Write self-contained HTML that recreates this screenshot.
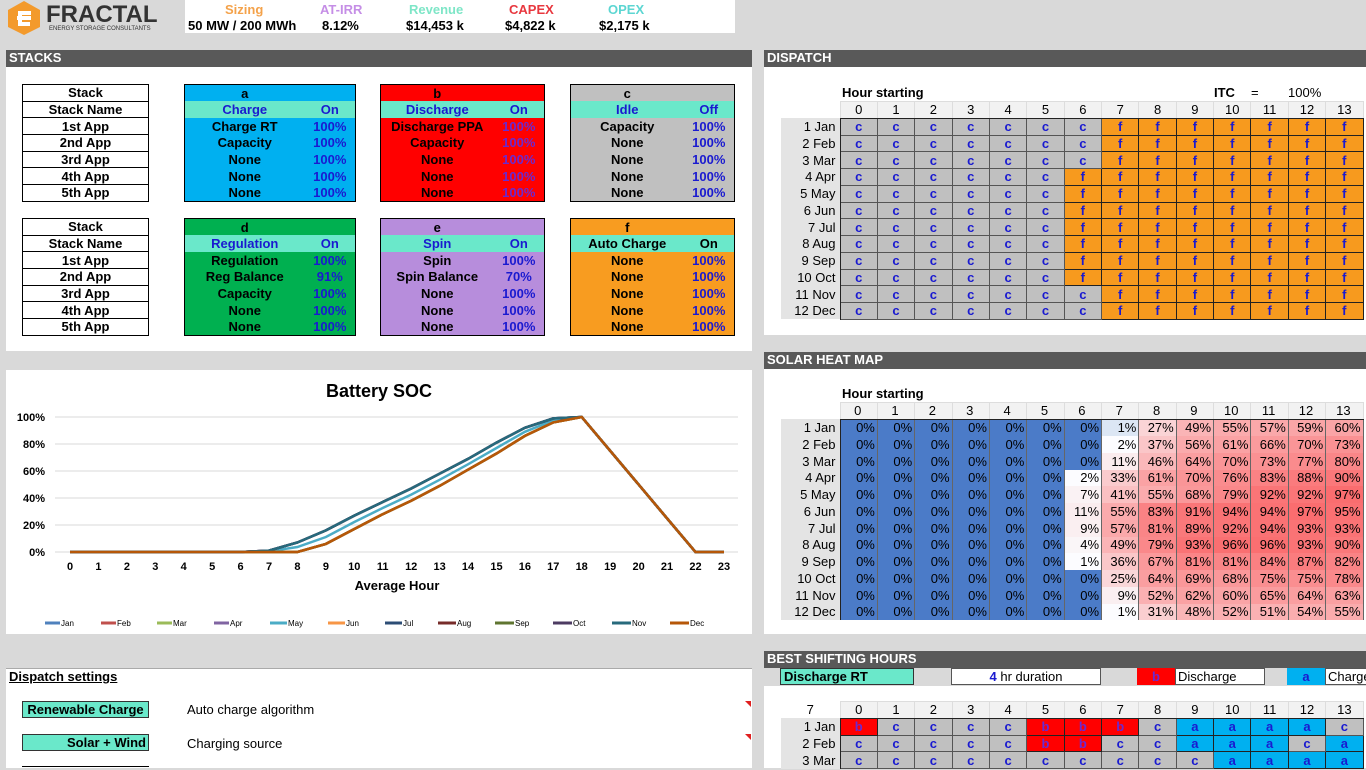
<!DOCTYPE html>
<html><head><meta charset="utf-8">
<style>
*{box-sizing:border-box;margin:0;padding:0}
body{width:1366px;height:768px;overflow:hidden;background:#d9d9d9;font-family:"Liberation Sans",Arial,sans-serif;position:relative;color:#000}
.abs{position:absolute}
.hdr{position:absolute;background:#595959;color:#fff;font-weight:bold;font-size:13px;line-height:16px;padding-left:3px;height:17px}
.pan{position:absolute;background:#fff}
table{border-collapse:collapse;position:absolute;table-layout:fixed}
td{padding:0;font-size:13px;line-height:15px;white-space:nowrap;overflow:hidden}
.lt td{border:1px solid #000;background:#fff;font-weight:bold;text-align:center;height:16.7px}
.bx{border:1px solid #000}
.bx td{font-weight:bold;height:16.7px;text-align:center}
.bx td.v{color:#1a1ad0}
.bx tr.t td{background:#6ae8ca;color:#1a1ad0}
.dg td{height:16.75px;text-align:center;font-weight:bold;color:#1a1ad0;border:1px solid #222}
.dg td.c{background:#c0c0c0;border-color:#555}
.dg td.f{background:#f79a1e}
.dg td.b{background:#ff0000;color:#6a2ad0}
.dg td.a{background:#00b0f0}
.dg td.l{background:#e4e4e4;color:#000;font-weight:normal;text-align:right;padding-right:4px;border:none;border-right:1px solid #222}
.dg tr.h td{background:#f2f2f2;color:#000;font-weight:normal;border:1px solid #ddd;border-bottom:1px solid #222}
.dg tr.h td.n{background:#fff;border:none}
.hm td{height:16.75px;text-align:right;padding-right:2px;border:1px solid #666;border-top:none;border-bottom:none}
.hm td.z{background:#4b7bc8}
.hm td.l{background:#e4e4e4;text-align:right;padding-right:4px;border:none;border-right:1px solid #222}
.hm tr.h td{background:#f2f2f2;text-align:center;border:1px solid #ddd;border-bottom:1px solid #222}
.hm tr.h td.n{background:#fff;border:none}
</style></head><body>

<!-- top header -->
<div class="pan" style="left:185px;top:0;width:550px;height:33px"></div>
<svg class="abs" style="left:6px;top:0" width="36" height="36" viewBox="0 0 36 36"><polygon points="18,1 34,10 34,27 18,35 2,27 2,10" fill="#f39a2c"/><path d="M11 18 h14 M25 13 h-11 v11 h10" stroke="#fff" stroke-width="4" fill="none"/></svg>
<div class="abs" style="left:46px;top:1px;font-size:24px;font-weight:bold;color:#333;letter-spacing:0px">FRACTAL</div>
<div class="abs" style="left:49px;top:26px;font-size:6px;color:#333">ENERGY STORAGE CONSULTANTS</div>
<div class="abs" style="left:225px;top:2px;font-size:13px;font-weight:bold;color:#f4a24a">Sizing</div>
<div class="abs" style="left:320px;top:2px;font-size:13px;font-weight:bold;color:#c58ee6">AT-IRR</div>
<div class="abs" style="left:409px;top:2px;font-size:13px;font-weight:bold;color:#7ee6c7">Revenue</div>
<div class="abs" style="left:509px;top:2px;font-size:13px;font-weight:bold;color:#e8383f">CAPEX</div>
<div class="abs" style="left:608px;top:2px;font-size:13px;font-weight:bold;color:#5cd6d2">OPEX</div>
<div class="abs" style="left:188px;top:18px;font-size:13px;font-weight:bold">50 MW / 200 MWh</div>
<div class="abs" style="left:322px;top:18px;font-size:13px;font-weight:bold">8.12%</div>
<div class="abs" style="left:406px;top:18px;font-size:13px;font-weight:bold">$14,453 k</div>
<div class="abs" style="left:505px;top:18px;font-size:13px;font-weight:bold">$4,822 k</div>
<div class="abs" style="left:599px;top:18px;font-size:13px;font-weight:bold">$2,175 k</div>

<!-- STACKS -->
<div class="hdr" style="left:6px;top:50px;width:746px">STACKS</div>
<div class="pan" style="left:6px;top:67px;width:746px;height:284px"></div>

<table class="lt" style="left:22px;top:84px;width:127px">
<tr><td>Stack</td></tr><tr><td>Stack Name</td></tr><tr><td>1st App</td></tr><tr><td>2nd App</td></tr><tr><td>3rd App</td></tr><tr><td>4th App</td></tr><tr><td>5th App</td></tr></table>
<table class="lt" style="left:22px;top:218px;width:127px">
<tr><td>Stack</td></tr><tr><td>Stack Name</td></tr><tr><td>1st App</td></tr><tr><td>2nd App</td></tr><tr><td>3rd App</td></tr><tr><td>4th App</td></tr><tr><td>5th App</td></tr></table>

<table class="bx" style="left:184px;top:84px;width:172px;background:#00b0f0"><col style="width:120px"><col>
<tr><td>a</td><td></td></tr><tr class="t"><td>Charge</td><td>On</td></tr>
<tr><td>Charge RT</td><td class="v">100%</td></tr><tr><td>Capacity</td><td class="v">100%</td></tr><tr><td>None</td><td class="v">100%</td></tr><tr><td>None</td><td class="v">100%</td></tr><tr><td>None</td><td class="v">100%</td></tr></table>
<table class="bx" style="left:380px;top:84px;width:165px;background:#ff0000"><col style="width:113px"><col>
<tr><td>b</td><td></td></tr><tr class="t"><td>Discharge</td><td>On</td></tr>
<tr><td>Discharge PPA</td><td class="v" style="color:#6a2ad0">100%</td></tr><tr><td>Capacity</td><td class="v" style="color:#6a2ad0">100%</td></tr><tr><td>None</td><td class="v" style="color:#6a2ad0">100%</td></tr><tr><td>None</td><td class="v" style="color:#6a2ad0">100%</td></tr><tr><td>None</td><td class="v" style="color:#6a2ad0">100%</td></tr></table>
<table class="bx" style="left:570px;top:84px;width:165px;background:#c0c0c0"><col style="width:113px"><col>
<tr><td>c</td><td></td></tr><tr class="t"><td>Idle</td><td>Off</td></tr>
<tr><td>Capacity</td><td class="v">100%</td></tr><tr><td>None</td><td class="v">100%</td></tr><tr><td>None</td><td class="v">100%</td></tr><tr><td>None</td><td class="v">100%</td></tr><tr><td>None</td><td class="v">100%</td></tr></table>

<table class="bx" style="left:184px;top:218px;width:172px;background:#00b050"><col style="width:120px"><col>
<tr><td>d</td><td></td></tr><tr class="t"><td>Regulation</td><td>On</td></tr>
<tr><td>Regulation</td><td class="v">100%</td></tr><tr><td>Reg Balance</td><td class="v">91%</td></tr><tr><td>Capacity</td><td class="v">100%</td></tr><tr><td>None</td><td class="v">100%</td></tr><tr><td>None</td><td class="v">100%</td></tr></table>
<table class="bx" style="left:380px;top:218px;width:165px;background:#b78ddc"><col style="width:113px"><col>
<tr><td>e</td><td></td></tr><tr class="t"><td>Spin</td><td>On</td></tr>
<tr><td>Spin</td><td class="v">100%</td></tr><tr><td>Spin Balance</td><td class="v">70%</td></tr><tr><td>None</td><td class="v">100%</td></tr><tr><td>None</td><td class="v">100%</td></tr><tr><td>None</td><td class="v">100%</td></tr></table>
<table class="bx" style="left:570px;top:218px;width:165px;background:#f89c20"><col style="width:113px"><col>
<tr><td>f</td><td></td></tr><tr class="t"><td style="color:#000">Auto Charge</td><td style="color:#000">On</td></tr>
<tr><td>None</td><td class="v">100%</td></tr><tr><td>None</td><td class="v">100%</td></tr><tr><td>None</td><td class="v">100%</td></tr><tr><td>None</td><td class="v">100%</td></tr><tr><td>None</td><td class="v">100%</td></tr></table>

<!-- Chart -->
<div class="pan" style="left:6px;top:370px;width:746px;height:264px"></div>
<svg class="abs" style="left:0;top:370px" width="752" height="264" font-family="Liberation Sans, sans-serif">
<g transform="translate(0,-370)">
<text x="379" y="397" font-size="18" font-weight="bold" text-anchor="middle">Battery SOC</text>
<g stroke="#d9d9d9" stroke-width="1">
<line x1="55" x2="738" y1="417" y2="417"/><line x1="55" x2="738" y1="444" y2="444"/><line x1="55" x2="738" y1="471" y2="471"/><line x1="55" x2="738" y1="498" y2="498"/><line x1="55" x2="738" y1="525" y2="525"/><line x1="55" x2="738" y1="552" y2="552"/></g>
<g font-size="11" font-weight="bold" text-anchor="end">
<text x="45" y="421">100%</text><text x="45" y="448">80%</text><text x="45" y="475">60%</text><text x="45" y="502">40%</text><text x="45" y="529">20%</text><text x="45" y="556">0%</text></g>
<g font-size="11" font-weight="bold" text-anchor="middle">
<text x="70" y="570">0</text><text x="98.4" y="570">1</text><text x="126.9" y="570">2</text><text x="155.3" y="570">3</text><text x="183.7" y="570">4</text><text x="212.2" y="570">5</text><text x="240.6" y="570">6</text><text x="269" y="570">7</text><text x="297.4" y="570">8</text><text x="325.9" y="570">9</text><text x="354.3" y="570">10</text><text x="382.7" y="570">11</text><text x="411.2" y="570">12</text><text x="439.6" y="570">13</text><text x="468" y="570">14</text><text x="496.5" y="570">15</text><text x="524.9" y="570">16</text><text x="553.3" y="570">17</text><text x="581.7" y="570">18</text><text x="610.2" y="570">19</text><text x="638.6" y="570">20</text><text x="667" y="570">21</text><text x="695.5" y="570">22</text><text x="724" y="570">23</text>
<text x="397" y="590" font-size="13">Average Hour</text></g>
<defs>
<polyline id="A" points="70,552 240.6,552 269,550.6 297.4,542.5 325.9,530.4 354.3,515.6 382.7,502 411.2,488.5 439.6,473.7 468,458.9 496.5,442.6 524.9,427.8 553.3,418.4 581.7,417 610.2,450.8 638.6,484.5 667,518.3 695.5,552 724,552" fill="none" stroke-width="2.5"/>
<polyline id="B" points="70,552 240.6,552 269,552 297.4,552 325.9,543.9 354.3,529 382.7,514.2 411.2,500.7 439.6,485.9 468,469.7 496.5,453.5 524.9,435.9 553.3,422.4 581.7,417 610.2,450.8 638.6,484.5 667,518.3 695.5,552 724,552" fill="none" stroke-width="2.5"/>
<polyline id="C" points="70,552 240.6,552 269,551.3 297.4,547 325.9,537 354.3,522 382.7,508 411.2,494.6 439.6,479.8 468,464.3 496.5,448 524.9,431.8 553.3,420.4 581.7,417 610.2,450.8 638.6,484.5 667,518.3 695.5,552 724,552" fill="none" stroke-width="2.5"/>
</defs>
<use href="#B" stroke="#4f81bd"/><use href="#B" stroke="#c0504d"/><use href="#B" stroke="#9bbb59"/><use href="#A" stroke="#8064a2"/><use href="#C" stroke="#4bacc6"/><use href="#B" stroke="#f79646"/><use href="#A" stroke="#2c4d75"/><use href="#A" stroke="#772c2a"/><use href="#B" stroke="#5f7530"/><use href="#A" stroke="#4d3b62"/><use href="#A" stroke="#276a7c"/><use href="#B" stroke="#b65708"/>
<g font-size="8" stroke-width="3">
<line x1="45" x2="60" y1="623" y2="623" stroke="#4f81bd"/><text x="61" y="626">Jan</text>
<line x1="101" x2="116" y1="623" y2="623" stroke="#c0504d"/><text x="117" y="626">Feb</text>
<line x1="157" x2="172" y1="623" y2="623" stroke="#9bbb59"/><text x="173" y="626">Mar</text>
<line x1="214" x2="229" y1="623" y2="623" stroke="#8064a2"/><text x="230" y="626">Apr</text>
<line x1="270" x2="287" y1="623" y2="623" stroke="#4bacc6"/><text x="288" y="626">May</text>
<line x1="328" x2="345" y1="623" y2="623" stroke="#f79646"/><text x="346" y="626">Jun</text>
<line x1="385" x2="402" y1="623" y2="623" stroke="#2c4d75"/><text x="403" y="626">Jul</text>
<line x1="438" x2="456" y1="623" y2="623" stroke="#772c2a"/><text x="457" y="626">Aug</text>
<line x1="495" x2="514" y1="623" y2="623" stroke="#5f7530"/><text x="515" y="626">Sep</text>
<line x1="553" x2="572" y1="623" y2="623" stroke="#4d3b62"/><text x="573" y="626">Oct</text>
<line x1="612" x2="631" y1="623" y2="623" stroke="#276a7c"/><text x="632" y="626">Nov</text>
<line x1="670" x2="689" y1="623" y2="623" stroke="#b65708"/><text x="690" y="626">Dec</text>
</g></g></svg>

<!-- Dispatch settings -->
<div class="pan" style="left:6px;top:668px;width:746px;height:100px;border-top:1px solid #aaa"></div>
<div class="abs" style="left:9px;top:669px;font-size:13px;font-weight:bold;text-decoration:underline">Dispatch settings</div>
<div class="abs" style="left:22px;top:701px;width:127px;height:17px;background:#6ae8ca;border:1px solid #333;font-size:13px;font-weight:bold;text-align:center;line-height:15px">Renewable Charge</div>
<div class="abs" style="left:187px;top:702px;font-size:13px">Auto charge algorithm</div>
<div class="abs" style="left:22px;top:734px;width:127px;height:17px;background:#6ae8ca;border:1px solid #333;font-size:13px;font-weight:bold;text-align:right;padding-right:2px;line-height:15px">Solar + Wind</div>
<div class="abs" style="left:187px;top:736px;font-size:13px">Charging source</div>
<div class="abs" style="left:22px;top:766px;width:127px;height:4px;border-top:1px solid #000"></div>
<div class="abs" style="left:745px;top:701px;width:0;height:0;border-left:6px solid transparent;border-top:6px solid #e02020"></div>
<div class="abs" style="left:745px;top:734px;width:0;height:0;border-left:6px solid transparent;border-top:6px solid #e02020"></div>

<!-- DISPATCH -->
<div class="hdr" style="left:764px;top:50px;width:602px">DISPATCH</div>
<div class="pan" style="left:764px;top:67px;width:602px;height:268px"></div>
<div class="abs" style="left:842px;top:85px;font-size:13px;font-weight:bold">Hour starting</div>
<div class="abs" style="left:1214px;top:85px;font-size:13px;font-weight:bold">ITC</div>
<div class="abs" style="left:1251px;top:85px;font-size:13px">=</div>
<div class="abs" style="left:1288px;top:85px;font-size:13px">100%</div>
<table class="dg" style="left:781px;top:101px;width:582px">
<col style="width:59px"><col span="14" style="width:37.36px">
<tr class="h"><td class="n"></td><td>0</td><td>1</td><td>2</td><td>3</td><td>4</td><td>5</td><td>6</td><td>7</td><td>8</td><td>9</td><td>10</td><td>11</td><td>12</td><td>13</td></tr>
<tr><td class="l">1 Jan</td><td class="c">c</td><td class="c">c</td><td class="c">c</td><td class="c">c</td><td class="c">c</td><td class="c">c</td><td class="c">c</td><td class="f">f</td><td class="f">f</td><td class="f">f</td><td class="f">f</td><td class="f">f</td><td class="f">f</td><td class="f">f</td></tr>
<tr><td class="l">2 Feb</td><td class="c">c</td><td class="c">c</td><td class="c">c</td><td class="c">c</td><td class="c">c</td><td class="c">c</td><td class="c">c</td><td class="f">f</td><td class="f">f</td><td class="f">f</td><td class="f">f</td><td class="f">f</td><td class="f">f</td><td class="f">f</td></tr>
<tr><td class="l">3 Mar</td><td class="c">c</td><td class="c">c</td><td class="c">c</td><td class="c">c</td><td class="c">c</td><td class="c">c</td><td class="c">c</td><td class="f">f</td><td class="f">f</td><td class="f">f</td><td class="f">f</td><td class="f">f</td><td class="f">f</td><td class="f">f</td></tr>
<tr><td class="l">4 Apr</td><td class="c">c</td><td class="c">c</td><td class="c">c</td><td class="c">c</td><td class="c">c</td><td class="c">c</td><td class="f">f</td><td class="f">f</td><td class="f">f</td><td class="f">f</td><td class="f">f</td><td class="f">f</td><td class="f">f</td><td class="f">f</td></tr>
<tr><td class="l">5 May</td><td class="c">c</td><td class="c">c</td><td class="c">c</td><td class="c">c</td><td class="c">c</td><td class="c">c</td><td class="f">f</td><td class="f">f</td><td class="f">f</td><td class="f">f</td><td class="f">f</td><td class="f">f</td><td class="f">f</td><td class="f">f</td></tr>
<tr><td class="l">6 Jun</td><td class="c">c</td><td class="c">c</td><td class="c">c</td><td class="c">c</td><td class="c">c</td><td class="c">c</td><td class="f">f</td><td class="f">f</td><td class="f">f</td><td class="f">f</td><td class="f">f</td><td class="f">f</td><td class="f">f</td><td class="f">f</td></tr>
<tr><td class="l">7 Jul</td><td class="c">c</td><td class="c">c</td><td class="c">c</td><td class="c">c</td><td class="c">c</td><td class="c">c</td><td class="f">f</td><td class="f">f</td><td class="f">f</td><td class="f">f</td><td class="f">f</td><td class="f">f</td><td class="f">f</td><td class="f">f</td></tr>
<tr><td class="l">8 Aug</td><td class="c">c</td><td class="c">c</td><td class="c">c</td><td class="c">c</td><td class="c">c</td><td class="c">c</td><td class="f">f</td><td class="f">f</td><td class="f">f</td><td class="f">f</td><td class="f">f</td><td class="f">f</td><td class="f">f</td><td class="f">f</td></tr>
<tr><td class="l">9 Sep</td><td class="c">c</td><td class="c">c</td><td class="c">c</td><td class="c">c</td><td class="c">c</td><td class="c">c</td><td class="f">f</td><td class="f">f</td><td class="f">f</td><td class="f">f</td><td class="f">f</td><td class="f">f</td><td class="f">f</td><td class="f">f</td></tr>
<tr><td class="l">10 Oct</td><td class="c">c</td><td class="c">c</td><td class="c">c</td><td class="c">c</td><td class="c">c</td><td class="c">c</td><td class="f">f</td><td class="f">f</td><td class="f">f</td><td class="f">f</td><td class="f">f</td><td class="f">f</td><td class="f">f</td><td class="f">f</td></tr>
<tr><td class="l">11 Nov</td><td class="c">c</td><td class="c">c</td><td class="c">c</td><td class="c">c</td><td class="c">c</td><td class="c">c</td><td class="c">c</td><td class="f">f</td><td class="f">f</td><td class="f">f</td><td class="f">f</td><td class="f">f</td><td class="f">f</td><td class="f">f</td></tr>
<tr><td class="l">12 Dec</td><td class="c">c</td><td class="c">c</td><td class="c">c</td><td class="c">c</td><td class="c">c</td><td class="c">c</td><td class="c">c</td><td class="f">f</td><td class="f">f</td><td class="f">f</td><td class="f">f</td><td class="f">f</td><td class="f">f</td><td class="f">f</td></tr>
</table>

<!-- SOLAR HEAT MAP -->
<div class="hdr" style="left:764px;top:352px;width:602px">SOLAR HEAT MAP</div>
<div class="pan" style="left:764px;top:369px;width:602px;height:265px"></div>
<div class="abs" style="left:842px;top:386px;font-size:13px;font-weight:bold">Hour starting</div>
<table class="hm" style="left:781px;top:402px;width:582px">
<col style="width:59px"><col span="14" style="width:37.36px">
<tr class="h"><td class="n"></td><td>0</td><td>1</td><td>2</td><td>3</td><td>4</td><td>5</td><td>6</td><td>7</td><td>8</td><td>9</td><td>10</td><td>11</td><td>12</td><td>13</td></tr>
<tr><td class="l">1 Jan</td><td class="z">0%</td><td class="z">0%</td><td class="z">0%</td><td class="z">0%</td><td class="z">0%</td><td class="z">0%</td><td class="z">0%</td><td style="background:#dce6f4">1%</td><td style="background:rgb(250,212,214)">27%</td><td style="background:rgb(250,180,182)">49%</td><td style="background:rgb(250,171,173)">55%</td><td style="background:rgb(250,168,170)">57%</td><td style="background:rgb(250,165,167)">59%</td><td style="background:rgb(250,164,166)">60%</td></tr>
<tr><td class="l">2 Feb</td><td class="z">0%</td><td class="z">0%</td><td class="z">0%</td><td class="z">0%</td><td class="z">0%</td><td class="z">0%</td><td class="z">0%</td><td style="background:#fcfcff">2%</td><td style="background:rgb(250,198,200)">37%</td><td style="background:rgb(250,170,172)">56%</td><td style="background:rgb(250,162,164)">61%</td><td style="background:rgb(250,155,157)">66%</td><td style="background:rgb(250,149,151)">70%</td><td style="background:rgb(250,145,147)">73%</td></tr>
<tr><td class="l">3 Mar</td><td class="z">0%</td><td class="z">0%</td><td class="z">0%</td><td class="z">0%</td><td class="z">0%</td><td class="z">0%</td><td class="z">0%</td><td style="background:rgb(250,236,238)">11%</td><td style="background:rgb(250,184,186)">46%</td><td style="background:rgb(250,158,160)">64%</td><td style="background:rgb(250,149,151)">70%</td><td style="background:rgb(250,145,147)">73%</td><td style="background:rgb(250,139,141)">77%</td><td style="background:rgb(250,134,136)">80%</td></tr>
<tr><td class="l">4 Apr</td><td class="z">0%</td><td class="z">0%</td><td class="z">0%</td><td class="z">0%</td><td class="z">0%</td><td class="z">0%</td><td style="background:#fcfcff">2%</td><td style="background:rgb(250,203,205)">33%</td><td style="background:rgb(250,162,164)">61%</td><td style="background:rgb(250,149,151)">70%</td><td style="background:rgb(250,140,142)">76%</td><td style="background:rgb(250,130,132)">83%</td><td style="background:rgb(250,123,125)">88%</td><td style="background:rgb(250,120,122)">90%</td></tr>
<tr><td class="l">5 May</td><td class="z">0%</td><td class="z">0%</td><td class="z">0%</td><td class="z">0%</td><td class="z">0%</td><td class="z">0%</td><td style="background:rgb(250,242,244)">7%</td><td style="background:rgb(250,192,194)">41%</td><td style="background:rgb(250,171,173)">55%</td><td style="background:rgb(250,152,154)">68%</td><td style="background:rgb(250,136,138)">79%</td><td style="background:rgb(250,117,119)">92%</td><td style="background:rgb(250,117,119)">92%</td><td style="background:rgb(250,109,111)">97%</td></tr>
<tr><td class="l">6 Jun</td><td class="z">0%</td><td class="z">0%</td><td class="z">0%</td><td class="z">0%</td><td class="z">0%</td><td class="z">0%</td><td style="background:rgb(250,236,238)">11%</td><td style="background:rgb(250,171,173)">55%</td><td style="background:rgb(250,130,132)">83%</td><td style="background:rgb(250,118,120)">91%</td><td style="background:rgb(250,114,116)">94%</td><td style="background:rgb(250,114,116)">94%</td><td style="background:rgb(250,109,111)">97%</td><td style="background:rgb(250,112,114)">95%</td></tr>
<tr><td class="l">7 Jul</td><td class="z">0%</td><td class="z">0%</td><td class="z">0%</td><td class="z">0%</td><td class="z">0%</td><td class="z">0%</td><td style="background:rgb(250,239,241)">9%</td><td style="background:rgb(250,168,170)">57%</td><td style="background:rgb(250,133,135)">81%</td><td style="background:rgb(250,121,123)">89%</td><td style="background:rgb(250,117,119)">92%</td><td style="background:rgb(250,114,116)">94%</td><td style="background:rgb(250,115,117)">93%</td><td style="background:rgb(250,115,117)">93%</td></tr>
<tr><td class="l">8 Aug</td><td class="z">0%</td><td class="z">0%</td><td class="z">0%</td><td class="z">0%</td><td class="z">0%</td><td class="z">0%</td><td style="background:rgb(250,246,248)">4%</td><td style="background:rgb(250,180,182)">49%</td><td style="background:rgb(250,136,138)">79%</td><td style="background:rgb(250,115,117)">93%</td><td style="background:rgb(250,111,113)">96%</td><td style="background:rgb(250,111,113)">96%</td><td style="background:rgb(250,115,117)">93%</td><td style="background:rgb(250,120,122)">90%</td></tr>
<tr><td class="l">9 Sep</td><td class="z">0%</td><td class="z">0%</td><td class="z">0%</td><td class="z">0%</td><td class="z">0%</td><td class="z">0%</td><td style="background:#fcfcff">1%</td><td style="background:rgb(250,199,201)">36%</td><td style="background:rgb(250,153,155)">67%</td><td style="background:rgb(250,133,135)">81%</td><td style="background:rgb(250,133,135)">81%</td><td style="background:rgb(250,128,130)">84%</td><td style="background:rgb(250,124,126)">87%</td><td style="background:rgb(250,131,133)">82%</td></tr>
<tr><td class="l">10 Oct</td><td class="z">0%</td><td class="z">0%</td><td class="z">0%</td><td class="z">0%</td><td class="z">0%</td><td class="z">0%</td><td class="z">0%</td><td style="background:rgb(250,215,217)">25%</td><td style="background:rgb(250,158,160)">64%</td><td style="background:rgb(250,151,153)">69%</td><td style="background:rgb(250,152,154)">68%</td><td style="background:rgb(250,142,144)">75%</td><td style="background:rgb(250,142,144)">75%</td><td style="background:rgb(250,137,139)">78%</td></tr>
<tr><td class="l">11 Nov</td><td class="z">0%</td><td class="z">0%</td><td class="z">0%</td><td class="z">0%</td><td class="z">0%</td><td class="z">0%</td><td class="z">0%</td><td style="background:rgb(250,239,241)">9%</td><td style="background:rgb(250,176,178)">52%</td><td style="background:rgb(250,161,163)">62%</td><td style="background:rgb(250,164,166)">60%</td><td style="background:rgb(250,156,158)">65%</td><td style="background:rgb(250,158,160)">64%</td><td style="background:rgb(250,159,161)">63%</td></tr>
<tr><td class="l">12 Dec</td><td class="z">0%</td><td class="z">0%</td><td class="z">0%</td><td class="z">0%</td><td class="z">0%</td><td class="z">0%</td><td class="z">0%</td><td style="background:#fcfcff">1%</td><td style="background:rgb(250,206,208)">31%</td><td style="background:rgb(250,181,183)">48%</td><td style="background:rgb(250,176,178)">52%</td><td style="background:rgb(250,177,179)">51%</td><td style="background:rgb(250,173,175)">54%</td><td style="background:rgb(250,171,173)">55%</td></tr>
</table>

<!-- BEST SHIFTING HOURS -->
<div class="hdr" style="left:764px;top:651px;width:602px">BEST SHIFTING HOURS</div>
<div class="pan" style="left:764px;top:686px;width:602px;height:82px"></div>
<div class="abs" style="left:780px;top:668px;width:134px;height:17px;background:#6ae8ca;border:1px solid #333;font-size:13px;font-weight:bold;padding-left:3px;line-height:15px">Discharge RT</div>
<div class="abs" style="left:951px;top:668px;width:150px;height:17px;background:#fff;border:1px solid #555;font-size:13px;text-align:center;line-height:15px"><b style="color:#1a1ad0">4</b> hr duration</div>
<div class="abs" style="left:1137px;top:668px;width:38px;height:17px;background:#ff0000;font-size:13px;font-weight:bold;color:#6a2ad0;text-align:center;line-height:17px">b</div>
<div class="abs" style="left:1175px;top:668px;width:90px;height:17px;background:#fff;border:1px solid #555;font-size:13px;padding-left:2px;line-height:15px">Discharge</div>
<div class="abs" style="left:1287px;top:668px;width:38px;height:17px;background:#00b0f0;font-size:13px;font-weight:bold;color:#1a1ad0;text-align:center;line-height:17px">a</div>
<div class="abs" style="left:1325px;top:668px;width:60px;height:17px;background:#fff;border:1px solid #555;font-size:13px;padding-left:2px;line-height:15px">Charge</div>
<table class="dg" style="left:781px;top:701px;width:582px">
<col style="width:59px"><col span="14" style="width:37.36px">
<tr class="h"><td class="n" style="text-align:center">7</td><td>0</td><td>1</td><td>2</td><td>3</td><td>4</td><td>5</td><td>6</td><td>7</td><td>8</td><td>9</td><td>10</td><td>11</td><td>12</td><td>13</td></tr>
<tr><td class="l">1 Jan</td><td class="b">b</td><td class="c">c</td><td class="c">c</td><td class="c">c</td><td class="c">c</td><td class="b">b</td><td class="b">b</td><td class="b">b</td><td class="c">c</td><td class="a">a</td><td class="a">a</td><td class="a">a</td><td class="a">a</td><td class="c">c</td></tr>
<tr><td class="l">2 Feb</td><td class="c">c</td><td class="c">c</td><td class="c">c</td><td class="c">c</td><td class="c">c</td><td class="b">b</td><td class="b">b</td><td class="c">c</td><td class="c">c</td><td class="a">a</td><td class="a">a</td><td class="a">a</td><td class="c">c</td><td class="a">a</td></tr>
<tr><td class="l">3 Mar</td><td class="c">c</td><td class="c">c</td><td class="c">c</td><td class="c">c</td><td class="c">c</td><td class="c">c</td><td class="c">c</td><td class="c">c</td><td class="c">c</td><td class="c">c</td><td class="a">a</td><td class="a">a</td><td class="a">a</td><td class="a">a</td></tr>
</table>
</body></html>
